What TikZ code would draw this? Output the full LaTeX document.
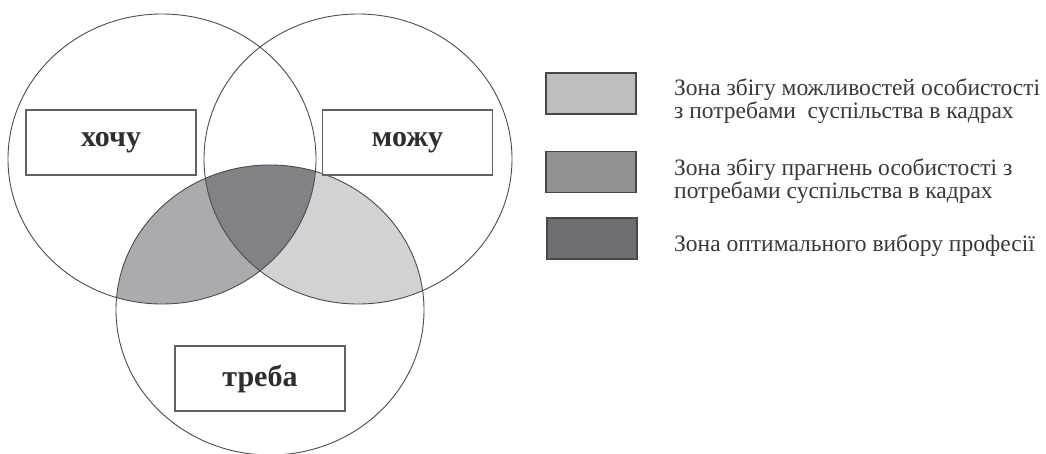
\documentclass[tikz,border=0pt]{standalone}
\usepackage{fontspec}
\setmainfont{Liberation Serif}
\begin{document}
\begin{tikzpicture}[x=1pt,y=-1pt,
  ring/.style={draw=black!70,line width=0.9pt},
  labelbox/.style={draw=black!62,line width=1.3pt,minimum width=170pt,minimum height=65pt,inner sep=0pt,font=\fontsize{30}{32}\selectfont\bfseries,text=black!82},
  keybox/.style={draw=black!72,line width=1.5pt,minimum width=90pt,minimum height=41pt,inner sep=0pt},
  keytext/.style={anchor=base west,inner sep=0pt,font=\fontsize{23.5}{25}\selectfont,text=black!78}]
\useasboundingbox (0,0) rectangle (1046,454);
\definecolor{zlight}{HTML}{D1D2D4}
\definecolor{zmid}{HTML}{A9ABAE}
\definecolor{zdark}{HTML}{808285}
\definecolor{klight}{HTML}{BDBEC0}
\definecolor{kmid}{HTML}{909193}
\definecolor{kdark}{HTML}{6D6E71}
\coordinate (cl) at (162,159);
\coordinate (cr) at (358,159);
\coordinate (cb) at (270,310);
% zones
\begin{scope}
  \clip (cb) ellipse [x radius=154, y radius=145];
  \fill[zmid] (cl) ellipse [x radius=154, y radius=145];
  \fill[zlight] (cr) ellipse [x radius=154, y radius=145];
  \clip (cl) ellipse [x radius=154, y radius=145];
  \fill[zdark] (cr) ellipse [x radius=154, y radius=145];
\end{scope}
\draw[ring] (cl) ellipse [x radius=154, y radius=145];
\draw[ring] (cr) ellipse [x radius=154, y radius=145];
\draw[ring] (cb) ellipse [x radius=154, y radius=145];
% labels
\node[labelbox,fill=white] (want) at (111,142.5) {хочу};
\node[labelbox,fill=white] (can) at (407.5,142.5) {можу};
\node[labelbox,fill=white] (need) at (260,378.5) {треба};
% legend
\node[keybox,fill=klight] (k1) at (591,93.5) {};
\node[keybox,fill=kmid] (k2) at (591,172) {};
\node[keybox,fill=kdark] (k3) at (592,238.5) {};
\node[keytext] (t1a) at (674,96) {Зона збігу можливостей особистості};
\node[keytext] (t1b) at (674,119) {з потребами\ \ суспільства\ в кадрах};
\node[keytext] (t2a) at (674,176) {Зона збігу прагнень особистості з};
\node[keytext] (t2b) at (674,199) {потребами суспільства\ в кадрах};
\node[keytext] (t3) at (674,252) {Зона оптимального вибору професії};
\end{tikzpicture}
\end{document}
